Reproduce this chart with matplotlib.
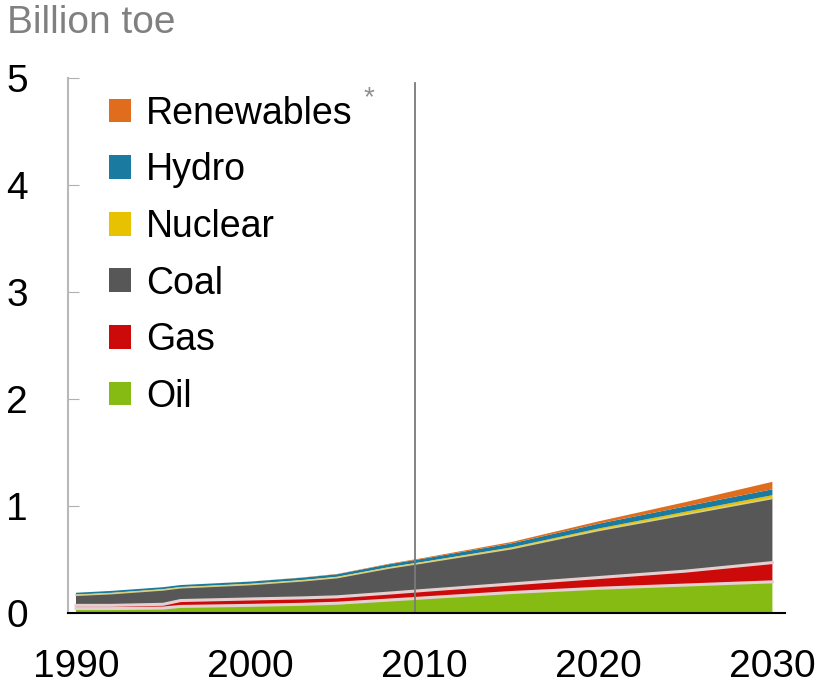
import numpy as np
import matplotlib.pyplot as plt
from matplotlib.patches import Patch

plt.rcParams["font.family"] = ["Liberation Sans", "DejaVu Sans"]

# values (billion toe)
years = [1990, 1992, 1995, 1996, 2000, 2003, 2005, 2008, 2010, 2015, 2020, 2025, 2030]
oil = [0.04, 0.04, 0.045, 0.06, 0.07, 0.08, 0.09, 0.12, 0.14, 0.19, 0.23, 0.26, 0.29]
gas = [0.03, 0.03, 0.035, 0.055, 0.06, 0.06, 0.06, 0.065, 0.07, 0.08, 0.10, 0.13, 0.18]
coal = [0.095, 0.11, 0.135, 0.12, 0.135, 0.16, 0.18, 0.235, 0.26, 0.33, 0.44, 0.53, 0.60]
nuclear = [0.005, 0.005, 0.005, 0.005, 0.005, 0.005, 0.006, 0.007, 0.008, 0.012, 0.018, 0.025, 0.03]
hydro = [0.018, 0.02, 0.02, 0.02, 0.022, 0.024, 0.025, 0.028, 0.03, 0.037, 0.045, 0.05, 0.055]
renewables = [0.0, 0.0, 0.0, 0.0, 0.001, 0.002, 0.003, 0.005, 0.007, 0.013, 0.022, 0.04, 0.07]

names = ["Oil", "Gas", "Coal", "Nuclear", "Hydro", "Renewables"]
colors = ["#86bb14", "#cc0a0a", "#575757", "#e6c200", "#1a7aa0", "#e06d1e"]
last_actual = 2009.5

fig = plt.figure(figsize=(8.19, 6.84), dpi=100)
ax = fig.add_axes([0.083, 0.104, 0.875, 0.782])

series = [oil, gas, coal, nuclear, hydro, renewables]
ax.stackplot(years, *series, colors=colors, linewidth=0)

# pale separators around the gas band
cum = np.cumsum(np.array(series), axis=0)
ax.plot(years, cum[0], color="#e4d0d0", lw=2.2)
ax.plot(years, cum[1], color="#e4d0d0", lw=2.2)
ax.plot(years, cum[2], color="#d8d080", lw=1.2)

ax.axvline(last_actual, ymin=0, ymax=0.99, color="#7a7a7a", lw=1.3)

ax.set_xlim(1989.54, 2030.7)
ax.set_ylim(0, 5)
ax.set_xticks([1990, 2000, 2010, 2020, 2030])
ax.set_yticks([0, 1, 2, 3, 4, 5])
ax.tick_params(axis="x", length=0, labelsize=28, pad=26)
ax.tick_params(axis="y", direction="in", length=8, color="#b0b0b0",
               labelsize=28, pad=29)

for s in ["top", "right"]:
    ax.spines[s].set_visible(False)
ax.spines["left"].set_color("#b8b8b8")
ax.spines["left"].set_linewidth(1.5)
ax.spines["bottom"].set_color("black")
ax.spines["bottom"].set_linewidth(1.5)

fig.text(0.008, 0.952, "Billion toe", fontsize=28, color="#808080", va="baseline")

handles = [Patch(facecolor=c, edgecolor="none") for c in colors][::-1]
labels = names[::-1]
leg = ax.legend(handles, labels, loc="upper left", bbox_to_anchor=(0.036, 0.995),
                frameon=False, fontsize=27, handlelength=0.6, handleheight=0.6,
                handletextpad=0.4, labelspacing=0.55, borderaxespad=0)
ax.text(0.412, 0.963, "*", transform=ax.transAxes, fontsize=20, color="#909090",
        va="center")

fig.savefig("out.png", dpi=100)
